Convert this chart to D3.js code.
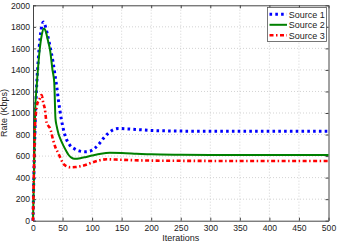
<!DOCTYPE html>
<html>
<head>
<meta charset="utf-8">
<script src="https://cdn.jsdelivr.net/npm/d3@7"></script>
<style>
  body { margin: 0; background: #fff; }
  svg { display: block; font-family: "Liberation Sans", Arial, sans-serif; }
  .grid line { stroke: #c8c8c8; stroke-dasharray: 1,2; stroke-width: 0.8; }
  .axis path, .axis line { stroke: #444; }
  .axis text { fill: #222; font-size: 8.6px; }
</style>
</head>
<body>
<script>
// values
const iter1 = [0, 2, 4, 6, 9, 12, 15, 17.5, 20, 24, 28, 31, 34, 37, 40, 43, 48, 54, 62, 70, 78, 88, 96, 104, 112, 120, 128, 136, 145, 160, 180, 200, 250, 300, 400, 500];
const rate1 = [0, 550, 950, 1230, 1500, 1700, 1810, 1845, 1820, 1740, 1640, 1560, 1470, 1360, 1250, 1120, 940, 795, 705, 668, 648, 640, 645, 670, 715, 770, 815, 845, 856, 852, 845, 838, 832, 830, 830, 830];

const iter2 = [0, 2, 3.5, 6, 9, 12, 15, 18.5, 22, 25, 29, 33, 36, 38, 40, 43, 47, 51, 56, 60, 65, 70, 80, 90, 100, 115, 130, 150, 175, 200, 250, 300, 400, 500];
const rate2 = [0, 500, 1000, 1230, 1450, 1620, 1730, 1785, 1750, 1680, 1580, 1400, 1280, 950, 880, 810, 750, 702, 650, 612, 585, 575, 580, 592, 605, 622, 630, 628, 622, 616, 612, 610, 610, 610];

const iter3 = [0, 1.5, 3, 5, 7, 10.5, 14.5, 17.5, 20, 23, 26, 29, 34, 38, 43, 47, 51, 57, 63, 72, 80, 90, 100, 112, 125, 140, 164, 200, 250, 300, 400, 500];
const rate3 = [0, 450, 820, 1000, 1080, 1120, 1166, 1090, 1040, 910, 880, 857, 749, 680, 625, 575, 532, 505, 496, 498, 505, 520, 540, 560, 570, 568, 563, 558, 556, 555, 555, 555];

const seriesNames = ['Source 1', 'Source 2', 'Source 3'];
const xTicks = [0, 50, 100, 150, 200, 250, 300, 350, 400, 450, 500];
const yTicks = [0, 200, 400, 600, 800, 1000, 1200, 1400, 1600, 1800, 2000];

const width = 337;
const height = 243;
const margin = { left: 33, right: 8.5, top: 5.3, bottom: 22.3 };

const svg = d3.select('body').append('svg').attr('width', width).attr('height', height);

const x = d3.scaleLinear().domain([0, 500]).range([margin.left, width - margin.right]);
const y = d3.scaleLinear().domain([0, 2000]).range([height - margin.bottom, margin.top]);

// grid
const grid = svg.append('g').attr('class', 'grid');
grid.selectAll('.gx').data(xTicks.slice(1, -1)).join('line')
  .attr('x1', d => x(d)).attr('x2', d => x(d))
  .attr('y1', y(0)).attr('y2', y(2000));
grid.selectAll('.gy').data(yTicks.slice(1, -1)).join('line')
  .attr('class', 'gy')
  .attr('x1', x(0)).attr('x2', x(500))
  .attr('y1', d => y(d)).attr('y2', d => y(d));

// axes, ticks inward on all four sides
const tk = 3;
const fmt = d3.format('d');
svg.append('g').attr('class', 'axis')
  .attr('transform', `translate(0,${y(0)})`)
  .call(d3.axisBottom(x).tickValues(xTicks).tickFormat(fmt).tickSizeInner(-tk).tickSizeOuter(0).tickPadding(4.5));
svg.append('g').attr('class', 'axis')
  .attr('transform', `translate(${x(0)},0)`)
  .call(d3.axisLeft(y).tickValues(yTicks).tickFormat(fmt).tickSizeInner(-tk).tickSizeOuter(0).tickPadding(3));
svg.append('g').attr('class', 'axis')
  .attr('transform', `translate(0,${y(2000)})`)
  .call(d3.axisTop(x).tickValues(xTicks).tickSizeInner(-tk).tickSizeOuter(0).tickFormat(''));
svg.append('g').attr('class', 'axis')
  .attr('transform', `translate(${x(500)},0)`)
  .call(d3.axisRight(y).tickValues(yTicks).tickSizeInner(-tk).tickSizeOuter(0).tickFormat(''));

const line = d3.line().x(d => x(d[0])).y(d => y(d[1])).curve(d3.curveMonotoneX);

const series = [
  { name: seriesNames[0], pts: d3.zip(iter1, rate1), color: '#0000ff', w: 3, dash: '2.6,3.2' },
  { name: seriesNames[1], pts: d3.zip(iter2, rate2), color: '#008000', w: 2, dash: null },
  { name: seriesNames[2], pts: d3.zip(iter3, rate3), color: '#ff0000', w: 2.6, dash: '4,2.5,1.5,2.5' }
];

svg.append('g').selectAll('path').data(series).join('path')
  .attr('d', d => line(d.pts))
  .attr('fill', 'none')
  .attr('stroke', d => d.color)
  .attr('stroke-width', d => d.w)
  .attr('stroke-dasharray', d => d.dash);

// legend
const lg = svg.append('g');
lg.append('rect')
  .attr('x', 267.5).attr('y', 7.5).attr('width', 59).attr('height', 34)
  .attr('fill', '#fff').attr('stroke', '#555').attr('stroke-width', 0.8);
series.forEach((s, i) => {
  const ly = 14.3 + i * 10.5;
  lg.append('line')
    .attr('x1', 269.5).attr('x2', 287).attr('y1', ly).attr('y2', ly)
    .attr('stroke', s.color).attr('stroke-width', s.w).attr('stroke-dasharray', s.dash);
  lg.append('text')
    .attr('x', 288.7).attr('y', ly + 3.2)
    .attr('font-size', 9).attr('fill', '#222')
    .text(s.name);
});

svg.append('text')
  .attr('x', x(250)).attr('y', 240.8)
  .attr('text-anchor', 'middle').attr('font-size', 9).attr('fill', '#222')
  .text('Iterations');
svg.append('text')
  .attr('transform', `translate(7,${y(1000)}) rotate(-90)`)
  .attr('text-anchor', 'middle').attr('font-size', 9).attr('fill', '#222')
  .text('Rate (Kbps)');
</script>
</body>
</html>
